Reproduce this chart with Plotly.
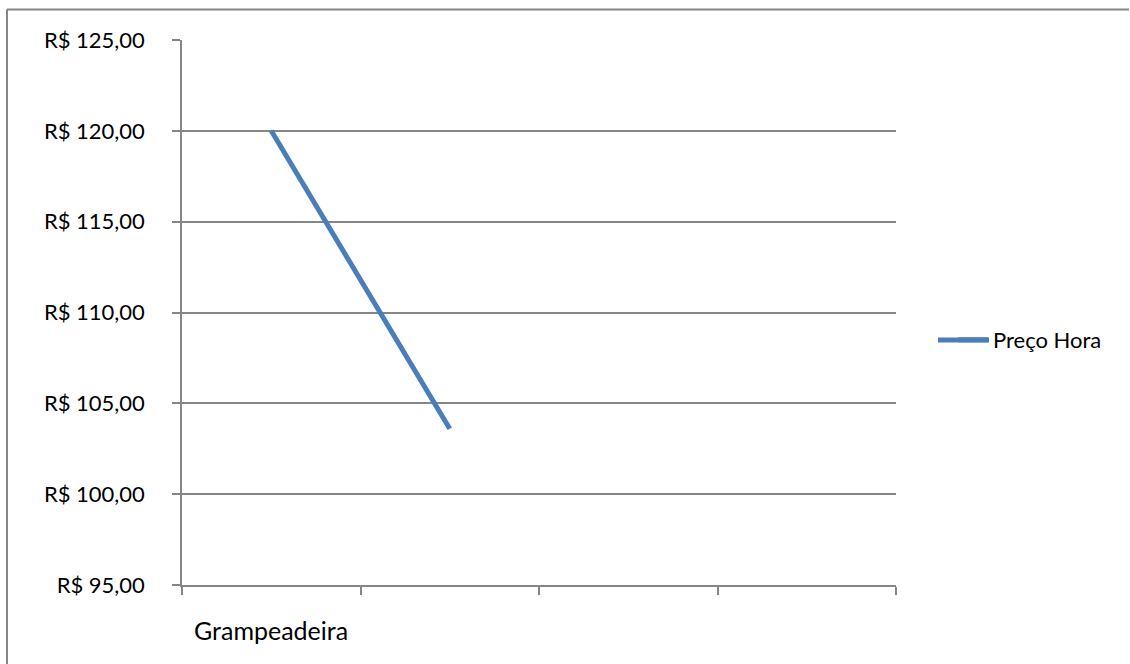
import plotly.graph_objects as go

# Category slots on the x axis (only the first one carries a name)
categories = ["Grampeadeira", "", "", ""]
# Hourly price per category (R$)
preco_hora = [120.00, 103.60, None, None]
# Y axis ticks
y_ticks = [95, 100, 105, 110, 115, 120, 125]
y_tick_labels = ["R$ 95,00", "R$ 100,00", "R$ 105,00", "R$ 110,00",
                 "R$ 115,00", "R$ 120,00", "R$ 125,00"]

W, H = 1130, 664
L, R, T, B = 182, 234, 40, 79
pw, ph = W - L - R, H - T - B

def px_x(x):
    return (x - L) / pw

def px_y(y):
    return (H - B - y) / ph

FONT = "Lato"
FS = 22
GRID = "#868686"
BLUE = "#4A7EBB"

xs = list(range(len(categories)))

fig = go.Figure()
fig.add_trace(go.Scatter(
    x=xs, y=preco_hora, mode="lines", name="Preço Hora",
    line=dict(color=BLUE, width=5), connectgaps=False,
))

fig.update_layout(
    width=W, height=H,
    margin=dict(l=L, r=R, t=T, b=B, pad=0),
    paper_bgcolor="white", plot_bgcolor="white",
    font=dict(family=FONT, size=FS, color="black"),
    showlegend=True,
    legend=dict(x=px_x(953), y=px_y(340), xanchor="left", yanchor="middle",
                font=dict(family=FONT, size=FS, color="black"),
                bgcolor="rgba(0,0,0,0)", itemwidth=30),
    xaxis=dict(
        range=[-0.5, len(categories) - 0.5],
        tickmode="array",
        tickvals=[i - 0.5 for i in range(len(categories) + 1)],
        ticktext=[""] * (len(categories) + 1),
        ticks="outside", ticklen=8, tickcolor=GRID, tickwidth=1.5,
        showgrid=False, zeroline=False,
        showline=True, linecolor=GRID, linewidth=1.5,
        fixedrange=True,
    ),
    yaxis=dict(
        range=[95, 125],
        tickmode="array", tickvals=y_ticks, ticktext=y_tick_labels,
        ticks="outside", ticklen=8, tickcolor=GRID, tickwidth=1.5,
        ticklabelstandoff=23,
        showgrid=True, gridcolor=GRID, gridwidth=1.5,
        zeroline=False,
        showline=True, linecolor=GRID, linewidth=1.5,
        fixedrange=True,
    ),
)

# Category names under the axis
for i, name in enumerate(categories):
    if name:
        fig.add_annotation(x=i, y=px_y(630), xref="x", yref="paper",
                           text=name, showarrow=False,
                           xanchor="center", yanchor="middle",
                           font=dict(family=FONT, size=25, color="black"))

# Longer legend key line, Excel style
fig.add_shape(type="line", xref="paper", yref="paper",
              x0=px_x(938), x1=px_x(989), y0=px_y(340), y1=px_y(340),
              line=dict(color=BLUE, width=5))

# Chart frame (top and left edges)
fig.add_shape(type="line", xref="paper", yref="paper",
              x0=px_x(7), x1=px_x(1129), y0=px_y(9.5), y1=px_y(9.5),
              line=dict(color=GRID, width=2))
fig.add_shape(type="line", xref="paper", yref="paper",
              x0=px_x(7), x1=px_x(7), y0=px_y(9.5), y1=px_y(700),
              line=dict(color=GRID, width=2))

fig.write_html("out.html")
